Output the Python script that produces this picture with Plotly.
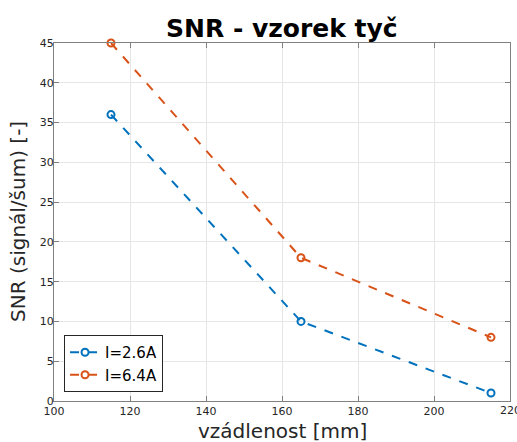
import plotly.graph_objects as go

distance = [115, 165, 215]
snr_26 = [36, 10, 1]
snr_64 = [45, 18, 8]
series_names = ["I=2.6A", "I=6.4A"]
colors = ["#0072BD", "#D95319"]
x_ticks = [100, 120, 140, 160, 180, 200, 220]
y_ticks = [0, 5, 10, 15, 20, 25, 30, 35, 40, 45]

fig = go.Figure()
for name, vals, c in zip(series_names, [snr_26, snr_64], colors):
    fig.add_trace(go.Scatter(
        x=distance, y=vals, name=name, mode="lines+markers",
        line=dict(color=c, width=2, dash="dash"),
        marker=dict(symbol="circle-open", size=7, color=c, line=dict(width=2, color=c)),
        cliponaxis=False,
    ))

axis_common = dict(
    showgrid=True, gridcolor="#e6e6e6", gridwidth=1,
    showline=True, linecolor="#808080", linewidth=1, mirror="ticks",
    ticks="inside", ticklen=5, tickcolor="#808080",
    tickfont=dict(family="DejaVu Sans", size=11, color="#262626"),
    zeroline=False, automargin=False,
)

fig.update_layout(
    width=517, height=442,
    margin=dict(l=54, r=7, t=43, b=41),
    paper_bgcolor="white", plot_bgcolor="white",
    xaxis=dict(range=[100, 220], tickvals=x_ticks, **axis_common),
    yaxis=dict(range=[0, 45], tickvals=y_ticks, ticklabelstandoff=-3, **axis_common),
    legend=dict(x=0.022, y=0.025, xanchor="left", yanchor="bottom",
                bgcolor="white", bordercolor="#262626", borderwidth=1,
                font=dict(family="DejaVu Sans", size=15, color="black"),
                itemwidth=30, tracegroupgap=0),
    showlegend=True,
    annotations=[
        dict(text="<b>SNR - vzorek tyč</b>", xref="paper", yref="paper", x=0.5, y=1.0,
             xanchor="center", yanchor="bottom", yshift=-2, showarrow=False,
             font=dict(family="DejaVu Sans", size=25, color="black")),
        dict(text="vzádlenost [mm]", xref="paper", yref="paper", x=0.5, y=0,
             xanchor="center", yanchor="top", yshift=-16, showarrow=False,
             font=dict(family="DejaVu Sans", size=20, color="#262626")),
        dict(text="SNR (signál/šum) [-]", xref="paper", yref="paper", x=0, y=0.5,
             xanchor="right", yanchor="middle", xshift=-22, textangle=-90, showarrow=False,
             font=dict(family="DejaVu Sans", size=20, color="#262626")),
        dict(text=str(x_ticks[-1]), xref="x", yref="paper", x=x_ticks[-1], y=0,
             xanchor="center", yanchor="top", yshift=-1, showarrow=False,
             font=dict(family="DejaVu Sans", size=11, color="#262626")),
    ],
)

fig.write_html("out.html", config={"displayModeBar": False},
               post_script="document.body.style.margin='0';document.body.style.overflow='hidden';")
